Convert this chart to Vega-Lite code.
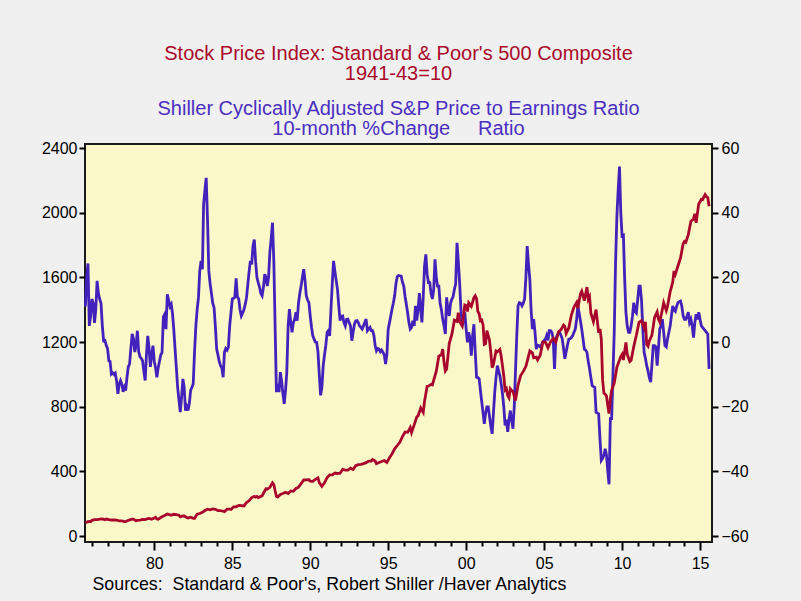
{
"$schema": "https://vega.github.io/schema/vega-lite/v6.json",
"width": 627, "height": 398,
"autosize": {"type": "none"},
"padding": {"left": 85, "top": 144, "right": 89, "bottom": 59},
"background": "#F0F0F0",
"config": {
  "font": "Liberation Sans",
  "view": {"fill": "#FAF8C8", "stroke": "#1a1a1a", "strokeWidth": 2},
  "axis": {"labelFont": "Liberation Sans", "labelFontSize": 16, "labelColor": "#000", "tickColor": "#000", "tickWidth": 2, "domain": false, "grid": false, "labelFlush": false, "labelOverlap": false}
},
"title": {
  "text": ["Stock Price Index: Standard & Poor's 500 Composite", "1941-43=10"],
  "subtitle": ["Shiller Cyclically Adjusted S&P Price to Earnings Ratio", "10-month %Change\u00a0\u00a0\u00a0\u00a0 Ratio"],
  "color": "#AA0A2A", "subtitleColor": "#4A2FC0",
  "fontSize": 20, "subtitleFontSize": 20, "fontWeight": "normal",
  "font": "Liberation Sans", "subtitleFont": "Liberation Sans",
  "lineHeight": 20, "subtitleLineHeight": 20, "subtitlePadding": 15, "offset": 1, "anchor": "middle"
},
"datasets": {
"sp500": [
{"date":"1975-08","value":85.7},{"date":"1975-09","value":84.7},{"date":"1975-10","value":88.6},{"date":"1975-11","value":90.1},{"date":"1975-12","value":88.7},
{"date":"1976-01","value":96.9},{"date":"1976-03","value":101.1},{"date":"1976-05","value":101.2},{"date":"1976-07","value":104.2},{"date":"1976-09","value":105.5},{"date":"1976-11","value":101.2},{"date":"1976-12","value":104.7},
{"date":"1977-02","value":100.9},{"date":"1977-04","value":99.1},{"date":"1977-06","value":99.3},{"date":"1977-08","value":97.7},{"date":"1977-10","value":94.2},{"date":"1977-12","value":93.8},
{"date":"1978-02","value":89.0},{"date":"1978-03","value":88.8},{"date":"1978-05","value":97.2},{"date":"1978-08","value":103.9},{"date":"1978-09","value":103.9},{"date":"1978-11","value":94.7},{"date":"1978-12","value":96.1},
{"date":"1979-02","value":98.2},{"date":"1979-04","value":102.1},{"date":"1979-06","value":101.7},{"date":"1979-08","value":107.4},{"date":"1979-09","value":108.6},{"date":"1979-11","value":103.7},{"date":"1979-12","value":107.8},
{"date":"1980-01","value":110.9},{"date":"1980-02","value":115.3},{"date":"1980-03","value":104.7},{"date":"1980-04","value":103.0},{"date":"1980-06","value":114.2},{"date":"1980-08","value":123.5},{"date":"1980-09","value":126.5},{"date":"1980-11","value":135.7},{"date":"1980-12","value":133.5},
{"date":"1981-02","value":128.4},{"date":"1981-04","value":134.4},{"date":"1981-06","value":132.3},{"date":"1981-08","value":129.1},{"date":"1981-09","value":118.3},{"date":"1981-11","value":123.8},{"date":"1981-12","value":123.8},
{"date":"1982-02","value":114.6},{"date":"1982-03","value":110.8},{"date":"1982-05","value":116.3},{"date":"1982-07","value":109.4},{"date":"1982-08","value":109.7},{"date":"1982-10","value":135.3},{"date":"1982-12","value":139.4},
{"date":"1983-02","value":146.8},{"date":"1983-04","value":157.7},{"date":"1983-06","value":166.4},{"date":"1983-08","value":162.4},{"date":"1983-10","value":167.6},{"date":"1983-12","value":165.0},
{"date":"1984-02","value":157.1},{"date":"1984-04","value":157.4},{"date":"1984-06","value":153.1},{"date":"1984-07","value":151.1},{"date":"1984-09","value":166.1},{"date":"1984-11","value":166.3},{"date":"1984-12","value":164.5},
{"date":"1985-02","value":180.7},{"date":"1985-04","value":180.6},{"date":"1985-06","value":188.9},{"date":"1985-08","value":188.3},{"date":"1985-10","value":186.2},{"date":"1985-12","value":207.3},
{"date":"1986-02","value":219.4},{"date":"1986-04","value":237.7},{"date":"1986-06","value":245.3},{"date":"1986-07","value":240.2},{"date":"1986-08","value":245.0},{"date":"1986-09","value":237.4},{"date":"1986-11","value":245.1},{"date":"1986-12","value":248.6},
{"date":"1987-01","value":264.5},{"date":"1987-03","value":292.5},{"date":"1987-04","value":289.3},{"date":"1987-06","value":301.4},{"date":"1987-08","value":329.4},{"date":"1987-09","value":318.7},{"date":"1987-10","value":280.2},{"date":"1987-11","value":245.0},{"date":"1987-12","value":241.0},
{"date":"1988-02","value":257.1},{"date":"1988-04","value":263.0},{"date":"1988-06","value":270.7},{"date":"1988-08","value":263.0},{"date":"1988-10","value":279.0},{"date":"1988-12","value":276.5},
{"date":"1989-02","value":294.0},{"date":"1989-04","value":302.3},{"date":"1989-06","value":323.7},{"date":"1989-08","value":346.6},{"date":"1989-10","value":347.4},{"date":"1989-12","value":348.6},
{"date":"1990-01","value":340.0},{"date":"1990-03","value":338.5},{"date":"1990-05","value":350.3},{"date":"1990-07","value":360.0},{"date":"1990-08","value":330.8},{"date":"1990-10","value":307.1},{"date":"1990-12","value":328.8},
{"date":"1991-02","value":362.3},{"date":"1991-04","value":378.0},{"date":"1991-06","value":378.3},{"date":"1991-08","value":389.4},{"date":"1991-10","value":386.9},{"date":"1991-12","value":388.5},
{"date":"1992-02","value":412.6},{"date":"1992-04","value":407.4},{"date":"1992-06","value":408.3},{"date":"1992-08","value":419.9},{"date":"1992-10","value":411.7},{"date":"1992-12","value":435.6},
{"date":"1993-02","value":441.7},{"date":"1993-04","value":443.6},{"date":"1993-06","value":448.1},{"date":"1993-08","value":454.1},{"date":"1993-10","value":463.9},{"date":"1993-12","value":463.9},
{"date":"1994-01","value":473.0},{"date":"1994-03","value":463.8},{"date":"1994-04","value":447.2},{"date":"1994-06","value":454.8},{"date":"1994-08","value":461.0},{"date":"1994-10","value":467.0},{"date":"1994-12","value":455.2},
{"date":"1995-02","value":483.8},{"date":"1995-04","value":507.9},{"date":"1995-06","value":539.4},{"date":"1995-08","value":560.0},{"date":"1995-10","value":580.0},{"date":"1995-12","value":614.6},
{"date":"1996-02","value":643.7},{"date":"1996-04","value":641.4},{"date":"1996-06","value":670.6},{"date":"1996-07","value":640.0},{"date":"1996-09","value":687.3},{"date":"1996-11","value":737.0},{"date":"1996-12","value":743.3},
{"date":"1997-02","value":792.2},{"date":"1997-04","value":765.0},{"date":"1997-05","value":833.1},{"date":"1997-07","value":925.3},{"date":"1997-08","value":927.7},{"date":"1997-10","value":938.2},{"date":"1997-11","value":935.0},{"date":"1997-12","value":962.4},
{"date":"1998-02","value":1020.1},{"date":"1998-04","value":1112.0},{"date":"1998-06","value":1120.7},{"date":"1998-07","value":1156.6},{"date":"1998-08","value":1074.6},{"date":"1998-09","value":1020.6},{"date":"1998-10","value":1032.5},{"date":"1998-12","value":1190.1},
{"date":"1999-02","value":1248.8},{"date":"1999-04","value":1335.2},{"date":"1999-06","value":1327.5},{"date":"1999-07","value":1381.0},{"date":"1999-08","value":1327.5},{"date":"1999-10","value":1300.0},{"date":"1999-12","value":1428.7},
{"date":"2000-01","value":1425.6},{"date":"2000-02","value":1388.9},{"date":"2000-03","value":1442.2},{"date":"2000-05","value":1420.6},{"date":"2000-07","value":1474.0},{"date":"2000-08","value":1485.5},{"date":"2000-09","value":1468.1},{"date":"2000-10","value":1390.1},{"date":"2000-11","value":1375.0},{"date":"2000-12","value":1330.9},
{"date":"2001-01","value":1335.6},{"date":"2001-02","value":1305.8},{"date":"2001-03","value":1185.9},{"date":"2001-04","value":1189.8},{"date":"2001-05","value":1270.4},{"date":"2001-07","value":1211.2},{"date":"2001-08","value":1133.6},{"date":"2001-09","value":1040.9},{"date":"2001-10","value":1059.8},{"date":"2001-12","value":1144.9},
{"date":"2002-01","value":1140.2},{"date":"2002-03","value":1153.8},{"date":"2002-04","value":1112.0},{"date":"2002-06","value":989.8},{"date":"2002-07","value":903.6},{"date":"2002-08","value":912.6},{"date":"2002-09","value":867.8},{"date":"2002-10","value":854.6},{"date":"2002-11","value":909.9},{"date":"2002-12","value":899.2},
{"date":"2003-01","value":895.8},{"date":"2003-03","value":837.6},{"date":"2003-05","value":934.0},{"date":"2003-07","value":992.5},{"date":"2003-09","value":1018.2},{"date":"2003-11","value":1049.9},{"date":"2003-12","value":1080.6},
{"date":"2004-02","value":1145.0},{"date":"2004-04","value":1133.1},{"date":"2004-05","value":1102.8},{"date":"2004-07","value":1106.7},{"date":"2004-08","value":1088.9},{"date":"2004-10","value":1118.1},{"date":"2004-12","value":1199.2},
{"date":"2005-02","value":1199.6},{"date":"2005-04","value":1164.4},{"date":"2005-06","value":1202.3},{"date":"2005-08","value":1222.2},{"date":"2005-10","value":1199.4},{"date":"2005-12","value":1262.1},
{"date":"2006-02","value":1277.5},{"date":"2006-04","value":1305.0},{"date":"2006-05","value":1297.0},{"date":"2006-06","value":1253.1},{"date":"2006-08","value":1287.2},{"date":"2006-10","value":1367.0},{"date":"2006-12","value":1416.4},
{"date":"2007-02","value":1445.0},{"date":"2007-03","value":1406.9},{"date":"2007-05","value":1497.5},{"date":"2007-06","value":1514.5},{"date":"2007-08","value":1456.0},{"date":"2007-10","value":1540.0},{"date":"2007-11","value":1463.4},{"date":"2007-12","value":1479.2},
{"date":"2008-01","value":1378.8},{"date":"2008-03","value":1326.4},{"date":"2008-05","value":1400.4},{"date":"2008-07","value":1257.3},{"date":"2008-08","value":1281.5},{"date":"2008-09","value":1217.0},{"date":"2008-10","value":968.8},{"date":"2008-11","value":883.0},{"date":"2008-12","value":877.6},
{"date":"2009-01","value":865.6},{"date":"2009-02","value":805.2},{"date":"2009-03","value":757.1},{"date":"2009-04","value":848.2},{"date":"2009-05","value":902.4},{"date":"2009-07","value":946.2},{"date":"2009-09","value":1044.6},{"date":"2009-11","value":1088.1},{"date":"2009-12","value":1110.4},
{"date":"2010-01","value":1123.6},{"date":"2010-02","value":1089.2},{"date":"2010-04","value":1197.3},{"date":"2010-05","value":1125.1},{"date":"2010-07","value":1079.8},{"date":"2010-08","value":1087.3},{"date":"2010-10","value":1171.6},{"date":"2010-12","value":1241.5},
{"date":"2011-02","value":1321.1},{"date":"2011-04","value":1331.5},{"date":"2011-06","value":1287.3},{"date":"2011-07","value":1325.2},{"date":"2011-08","value":1185.3},{"date":"2011-09","value":1173.9},{"date":"2011-10","value":1207.2},{"date":"2011-12","value":1243.3},
{"date":"2012-02","value":1352.5},{"date":"2012-04","value":1386.4},{"date":"2012-05","value":1341.3},{"date":"2012-06","value":1323.5},{"date":"2012-08","value":1401.4},{"date":"2012-09","value":1443.4},{"date":"2012-11","value":1394.5},{"date":"2012-12","value":1422.3},
{"date":"2013-02","value":1512.3},{"date":"2013-04","value":1570.7},{"date":"2013-05","value":1639.8},{"date":"2013-06","value":1618.8},{"date":"2013-08","value":1670.1},{"date":"2013-10","value":1720.0},{"date":"2013-12","value":1807.8},
{"date":"2014-01","value":1822.4},{"date":"2014-02","value":1817.0},{"date":"2014-04","value":1864.3},{"date":"2014-06","value":1947.1},{"date":"2014-08","value":1961.5},{"date":"2014-09","value":1993.2},{"date":"2014-10","value":1937.3},{"date":"2014-12","value":2054.3},
{"date":"2015-02","value":2082.2},{"date":"2015-03","value":2080.6},{"date":"2015-05","value":2111.9},{"date":"2015-06","value":2099.3},{"date":"2015-07","value":2094.1},{"date":"2015-08","value":2039.9}
],
"cape": [
{"date":"1975-08","value":11},{"date":"1975-09","value":20},{"date":"1975-10","value":24.3},{"date":"1975-11","value":5},{"date":"1975-12","value":8},
{"date":"1976-01","value":13.3},{"date":"1976-02","value":12},{"date":"1976-03","value":5.9},{"date":"1976-04","value":10},{"date":"1976-05","value":18.9},{"date":"1976-06","value":15},{"date":"1976-07","value":13.3},{"date":"1976-08","value":12},{"date":"1976-09","value":5},{"date":"1976-10","value":0.4},{"date":"1976-11","value":0.5},{"date":"1976-12","value":-1},
{"date":"1977-01","value":-2},{"date":"1977-02","value":-5.8},{"date":"1977-03","value":-6},{"date":"1977-04","value":-9.9},{"date":"1977-05","value":-9.5},{"date":"1977-06","value":-10},{"date":"1977-07","value":-9.6},{"date":"1977-08","value":-12},{"date":"1977-09","value":-16},{"date":"1977-10","value":-13},{"date":"1977-11","value":-11.9},{"date":"1977-12","value":-13},
{"date":"1978-01","value":-15.4},{"date":"1978-02","value":-14},{"date":"1978-03","value":-15},{"date":"1978-04","value":-11},{"date":"1978-05","value":-7.7},{"date":"1978-06","value":-6.8},{"date":"1978-07","value":-2},{"date":"1978-08","value":2.5},{"date":"1978-09","value":1},{"date":"1978-10","value":-3.1},{"date":"1978-11","value":-1},{"date":"1978-12","value":3.5},
{"date":"1979-01","value":-3},{"date":"1979-02","value":-4.6},{"date":"1979-03","value":-5},{"date":"1979-04","value":-5.8},{"date":"1979-05","value":-9},{"date":"1979-06","value":-11.9},{"date":"1979-07","value":-4},{"date":"1979-08","value":1.9},{"date":"1979-09","value":-2},{"date":"1979-10","value":-7.7},{"date":"1979-11","value":-4},{"date":"1979-12","value":-1.1},
{"date":"1980-01","value":-6},{"date":"1980-02","value":-8},{"date":"1980-03","value":-10.9},{"date":"1980-04","value":-8},{"date":"1980-05","value":-6},{"date":"1980-06","value":-4},{"date":"1980-07","value":-3.2},{"date":"1980-08","value":7.8},{"date":"1980-09","value":8.6},{"date":"1980-10","value":4.0},{"date":"1980-11","value":14.8},{"date":"1980-12","value":13},
{"date":"1981-01","value":11},{"date":"1981-02","value":11.7},{"date":"1981-03","value":9},{"date":"1981-04","value":4},{"date":"1981-05","value":-2},{"date":"1981-06","value":-8},{"date":"1981-07","value":-14},{"date":"1981-08","value":-18},{"date":"1981-09","value":-21.7},{"date":"1981-10","value":-17},{"date":"1981-11","value":-11.4},{"date":"1981-12","value":-14},
{"date":"1982-01","value":-21.2},{"date":"1982-02","value":-20},{"date":"1982-03","value":-21.2},{"date":"1982-04","value":-19},{"date":"1982-05","value":-15},{"date":"1982-06","value":-14},{"date":"1982-07","value":-12.9},{"date":"1982-08","value":-3},{"date":"1982-09","value":5},{"date":"1982-10","value":10},{"date":"1982-11","value":13.8},{"date":"1982-12","value":22},
{"date":"1983-01","value":25.1},{"date":"1983-02","value":22.5},{"date":"1983-03","value":42.5},{"date":"1983-04","value":47},{"date":"1983-05","value":50.8},{"date":"1983-06","value":38},{"date":"1983-07","value":22},{"date":"1983-08","value":18},{"date":"1983-09","value":15},{"date":"1983-10","value":12},{"date":"1983-11","value":10.7},{"date":"1983-12","value":5},
{"date":"1984-01","value":-2.2},{"date":"1984-02","value":-4},{"date":"1984-03","value":-6},{"date":"1984-04","value":-7.3},{"date":"1984-05","value":-8},{"date":"1984-06","value":-10.9},{"date":"1984-07","value":-3.2},{"date":"1984-08","value":-2},{"date":"1984-09","value":-2.5},{"date":"1984-10","value":-1.6},{"date":"1984-11","value":5},{"date":"1984-12","value":9},
{"date":"1985-01","value":13.3},{"date":"1985-02","value":13.5},{"date":"1985-03","value":13.8},{"date":"1985-04","value":19.7},{"date":"1985-05","value":14},{"date":"1985-06","value":13.3},{"date":"1985-07","value":10},{"date":"1985-08","value":8.1},{"date":"1985-09","value":9},{"date":"1985-10","value":10},{"date":"1985-11","value":11.7},{"date":"1985-12","value":13.8},
{"date":"1986-01","value":18},{"date":"1986-02","value":22},{"date":"1986-03","value":25.1},{"date":"1986-04","value":24},{"date":"1986-05","value":29.7},{"date":"1986-06","value":31.7},{"date":"1986-07","value":25},{"date":"1986-08","value":20},{"date":"1986-09","value":18.4},{"date":"1986-10","value":17},{"date":"1986-11","value":15},{"date":"1986-12","value":14.3},
{"date":"1987-01","value":17},{"date":"1987-02","value":21},{"date":"1987-03","value":20},{"date":"1987-04","value":17.3},{"date":"1987-05","value":20},{"date":"1987-06","value":28},{"date":"1987-07","value":32},{"date":"1987-08","value":36.9},{"date":"1987-09","value":25},{"date":"1987-10","value":5},{"date":"1987-11","value":-15.5},{"date":"1987-12","value":-13},
{"date":"1988-01","value":-15.5},{"date":"1988-02","value":-9.3},{"date":"1988-03","value":-12},{"date":"1988-04","value":-16},{"date":"1988-05","value":-19.1},{"date":"1988-06","value":-15},{"date":"1988-07","value":-9.3},{"date":"1988-08","value":5},{"date":"1988-09","value":10.2},{"date":"1988-10","value":6},{"date":"1988-11","value":3.0},{"date":"1988-12","value":6},
{"date":"1989-01","value":7},{"date":"1989-02","value":9.2},{"date":"1989-03","value":6.6},{"date":"1989-04","value":12},{"date":"1989-05","value":15},{"date":"1989-06","value":17.3},{"date":"1989-07","value":20},{"date":"1989-08","value":22.5},{"date":"1989-09","value":19},{"date":"1989-10","value":14.3},{"date":"1989-11","value":13},{"date":"1989-12","value":12.2},
{"date":"1990-01","value":8},{"date":"1990-02","value":4.5},{"date":"1990-03","value":2},{"date":"1990-04","value":0.9},{"date":"1990-05","value":0},{"date":"1990-06","value":-0.1},{"date":"1990-07","value":-3},{"date":"1990-08","value":-10},{"date":"1990-09","value":-16.5},{"date":"1990-10","value":-14},{"date":"1990-11","value":-7.3},{"date":"1990-12","value":-4},
{"date":"1991-01","value":-1},{"date":"1991-02","value":3.0},{"date":"1991-03","value":3.5},{"date":"1991-04","value":1.9},{"date":"1991-05","value":10},{"date":"1991-06","value":18},{"date":"1991-07","value":25.1},{"date":"1991-08","value":22},{"date":"1991-09","value":19},{"date":"1991-10","value":16.3},{"date":"1991-11","value":11},{"date":"1991-12","value":6.6},
{"date":"1992-01","value":8},{"date":"1992-02","value":8.1},{"date":"1992-03","value":6},{"date":"1992-04","value":5.0},{"date":"1992-05","value":7},{"date":"1992-06","value":7.1},{"date":"1992-07","value":6},{"date":"1992-08","value":5},{"date":"1992-09","value":0.4},{"date":"1992-10","value":3},{"date":"1992-11","value":5.5},{"date":"1992-12","value":6.5},
{"date":"1993-01","value":6.6},{"date":"1993-02","value":6},{"date":"1993-03","value":5},{"date":"1993-04","value":4.5},{"date":"1993-05","value":4.0},{"date":"1993-06","value":5},{"date":"1993-07","value":6},{"date":"1993-08","value":7.1},{"date":"1993-09","value":3.5},{"date":"1993-10","value":4},{"date":"1993-11","value":4.5},{"date":"1993-12","value":3.5},
{"date":"1994-01","value":3.5},{"date":"1994-02","value":2},{"date":"1994-03","value":-1},{"date":"1994-04","value":-2.7},{"date":"1994-05","value":-2},{"date":"1994-06","value":-2.2},{"date":"1994-07","value":-3},{"date":"1994-08","value":-2.5},{"date":"1994-09","value":-3.2},{"date":"1994-10","value":-4},{"date":"1994-11","value":-6.8},{"date":"1994-12","value":-4},
{"date":"1995-01","value":4.0},{"date":"1995-02","value":6},{"date":"1995-03","value":8},{"date":"1995-04","value":10.2},{"date":"1995-05","value":12},{"date":"1995-06","value":14.3},{"date":"1995-07","value":18},{"date":"1995-08","value":20.2},{"date":"1995-09","value":20.6},{"date":"1995-10","value":20.5},{"date":"1995-11","value":20.4},{"date":"1995-12","value":18.5},
{"date":"1996-01","value":17.3},{"date":"1996-02","value":14},{"date":"1996-03","value":11.7},{"date":"1996-04","value":9},{"date":"1996-05","value":6},{"date":"1996-06","value":4.0},{"date":"1996-07","value":4.5},{"date":"1996-08","value":6.6},{"date":"1996-09","value":5},{"date":"1996-10","value":11.2},{"date":"1996-11","value":6.6},{"date":"1996-12","value":10},
{"date":"1997-01","value":15.1},{"date":"1997-02","value":10},{"date":"1997-03","value":6.1},{"date":"1997-04","value":14},{"date":"1997-05","value":23.5},{"date":"1997-06","value":27.1},{"date":"1997-07","value":21},{"date":"1997-08","value":18.4},{"date":"1997-09","value":18.4},{"date":"1997-10","value":15},{"date":"1997-11","value":13.3},{"date":"1997-12","value":16},
{"date":"1998-01","value":25.6},{"date":"1998-02","value":20},{"date":"1998-03","value":17.3},{"date":"1998-04","value":17.3},{"date":"1998-05","value":12},{"date":"1998-06","value":10},{"date":"1998-07","value":7.1},{"date":"1998-08","value":5},{"date":"1998-09","value":2.5},{"date":"1998-10","value":13.8},{"date":"1998-11","value":10},{"date":"1998-12","value":8.1},
{"date":"1999-01","value":12},{"date":"1999-02","value":13.3},{"date":"1999-03","value":14},{"date":"1999-04","value":16.3},{"date":"1999-05","value":18},{"date":"1999-06","value":30.7},{"date":"1999-07","value":25},{"date":"1999-08","value":18.4},{"date":"1999-09","value":10},{"date":"1999-10","value":5.0},{"date":"1999-11","value":7},{"date":"1999-12","value":9.2},
{"date":"2000-01","value":4},{"date":"2000-02","value":-0.1},{"date":"2000-03","value":3.0},{"date":"2000-04","value":1},{"date":"2000-05","value":-4.2},{"date":"2000-06","value":2},{"date":"2000-07","value":5.5},{"date":"2000-08","value":-3},{"date":"2000-09","value":-10.9},{"date":"2000-10","value":-11},{"date":"2000-11","value":-11.4},{"date":"2000-12","value":-15},
{"date":"2001-01","value":-18.6},{"date":"2001-02","value":-22},{"date":"2001-03","value":-25.3},{"date":"2001-04","value":-22},{"date":"2001-05","value":-20.1},{"date":"2001-06","value":-20.1},{"date":"2001-07","value":-23},{"date":"2001-08","value":-26},{"date":"2001-09","value":-28.4},{"date":"2001-10","value":-22},{"date":"2001-11","value":-15.5},{"date":"2001-12","value":-11},
{"date":"2002-01","value":-7.3},{"date":"2002-02","value":-9},{"date":"2002-03","value":-10.4},{"date":"2002-04","value":-13},{"date":"2002-05","value":-16},{"date":"2002-06","value":-20},{"date":"2002-07","value":-25.8},{"date":"2002-08","value":-24},{"date":"2002-09","value":-27.8},{"date":"2002-10","value":-24},{"date":"2002-11","value":-21.2},{"date":"2002-12","value":-24},
{"date":"2003-01","value":-26.8},{"date":"2003-02","value":-20},{"date":"2003-03","value":-9.3},{"date":"2003-04","value":2},{"date":"2003-05","value":11.2},{"date":"2003-06","value":12.2},{"date":"2003-07","value":12},{"date":"2003-08","value":11.2},{"date":"2003-09","value":12},{"date":"2003-10","value":13.3},{"date":"2003-11","value":20},{"date":"2003-12","value":29.7},
{"date":"2004-01","value":24},{"date":"2004-02","value":19.4},{"date":"2004-03","value":10},{"date":"2004-04","value":4.0},{"date":"2004-05","value":7.1},{"date":"2004-06","value":3},{"date":"2004-07","value":-2.2},{"date":"2004-08","value":-1},{"date":"2004-09","value":-1.1},{"date":"2004-10","value":-1.5},{"date":"2004-11","value":-1},{"date":"2004-12","value":0},
{"date":"2005-01","value":0.5},{"date":"2005-02","value":0.9},{"date":"2005-03","value":2},{"date":"2005-04","value":0.5},{"date":"2005-05","value":3.5},{"date":"2005-06","value":3.5},{"date":"2005-07","value":3.0},{"date":"2005-08","value":1},{"date":"2005-09","value":-8.3},{"date":"2005-10","value":0.9},{"date":"2005-11","value":2},{"date":"2005-12","value":2.5},
{"date":"2006-01","value":3.0},{"date":"2006-02","value":2},{"date":"2006-03","value":1},{"date":"2006-04","value":-2},{"date":"2006-05","value":-5.2},{"date":"2006-06","value":-3},{"date":"2006-07","value":-1},{"date":"2006-08","value":0.9},{"date":"2006-09","value":1},{"date":"2006-10","value":1.4},{"date":"2006-11","value":2},{"date":"2006-12","value":3},
{"date":"2007-01","value":4.0},{"date":"2007-02","value":7},{"date":"2007-03","value":11.2},{"date":"2007-04","value":9},{"date":"2007-05","value":6.6},{"date":"2007-06","value":4},{"date":"2007-07","value":1},{"date":"2007-08","value":-2.2},{"date":"2007-09","value":-2.5},{"date":"2007-10","value":-3.2},{"date":"2007-11","value":-6},{"date":"2007-12","value":-8.3},
{"date":"2008-01","value":-11},{"date":"2008-02","value":-13.5},{"date":"2008-03","value":-13.8},{"date":"2008-04","value":-14},{"date":"2008-05","value":-21.7},{"date":"2008-06","value":-22},{"date":"2008-07","value":-22.2},{"date":"2008-08","value":-30},{"date":"2008-09","value":-36.6},{"date":"2008-10","value":-36},{"date":"2008-11","value":-35},{"date":"2008-12","value":-33},
{"date":"2009-01","value":-35},{"date":"2009-02","value":-40},{"date":"2009-03","value":-44},{"date":"2009-04","value":-23.7},{"date":"2009-05","value":-23.7},{"date":"2009-06","value":-10},{"date":"2009-07","value":3.0},{"date":"2009-08","value":24.6},{"date":"2009-09","value":38.9},{"date":"2009-10","value":47},{"date":"2009-11","value":54.3},{"date":"2009-12","value":40},
{"date":"2010-01","value":32.8},{"date":"2010-02","value":33},{"date":"2010-03","value":20},{"date":"2010-04","value":9.2},{"date":"2010-05","value":5},{"date":"2010-06","value":3.0},{"date":"2010-07","value":3.0},{"date":"2010-08","value":5},{"date":"2010-09","value":8},{"date":"2010-10","value":12.2},{"date":"2010-11","value":9.5},{"date":"2010-12","value":9},
{"date":"2011-01","value":13},{"date":"2011-02","value":17.3},{"date":"2011-03","value":17.3},{"date":"2011-04","value":13},{"date":"2011-05","value":4.0},{"date":"2011-06","value":-3.2},{"date":"2011-07","value":-5},{"date":"2011-08","value":-7.3},{"date":"2011-09","value":-9},{"date":"2011-10","value":-11},{"date":"2011-11","value":-12.4},{"date":"2011-12","value":-7},
{"date":"2012-01","value":-1.1},{"date":"2012-02","value":-1.1},{"date":"2012-03","value":-1.5},{"date":"2012-04","value":-7.3},{"date":"2012-05","value":-2},{"date":"2012-06","value":4.0},{"date":"2012-07","value":5},{"date":"2012-08","value":7.1},{"date":"2012-09","value":3},{"date":"2012-10","value":-1.1},{"date":"2012-11","value":-1.5},{"date":"2012-12","value":1},
{"date":"2013-01","value":3},{"date":"2013-02","value":5.0},{"date":"2013-03","value":8},{"date":"2013-04","value":11.2},{"date":"2013-05","value":10},{"date":"2013-06","value":9.5},{"date":"2013-07","value":11},{"date":"2013-08","value":12.2},{"date":"2013-09","value":12.5},{"date":"2013-10","value":12.7},{"date":"2013-11","value":11},{"date":"2013-12","value":8.1},
{"date":"2014-01","value":7},{"date":"2014-02","value":7.0},{"date":"2014-03","value":8},{"date":"2014-04","value":9.2},{"date":"2014-05","value":6},{"date":"2014-06","value":7},{"date":"2014-07","value":5},{"date":"2014-08","value":1.4},{"date":"2014-09","value":6},{"date":"2014-10","value":8.6},{"date":"2014-11","value":7},{"date":"2014-12","value":9.2},
{"date":"2015-01","value":7},{"date":"2015-02","value":5.0},{"date":"2015-03","value":4.5},{"date":"2015-04","value":4},{"date":"2015-05","value":3.5},{"date":"2015-06","value":3},{"date":"2015-07","value":2.5},{"date":"2015-08","value":-8.3}
]
},
"encoding": {
  "x": {
    "field": "date", "type": "temporal",
    "scale": {"type": "utc", "domain": [{"year": 1975, "month": 7, "date": 23, "utc": true}, {"year": 2015, "month": 10, "date": 8, "utc": true}]},
    "axis": {
      "values": [
        {"year":1976,"utc":true},{"year":1977,"utc":true},{"year":1978,"utc":true},{"year":1979,"utc":true},{"year":1980,"utc":true},
        {"year":1981,"utc":true},{"year":1982,"utc":true},{"year":1983,"utc":true},{"year":1984,"utc":true},{"year":1985,"utc":true},
        {"year":1986,"utc":true},{"year":1987,"utc":true},{"year":1988,"utc":true},{"year":1989,"utc":true},{"year":1990,"utc":true},
        {"year":1991,"utc":true},{"year":1992,"utc":true},{"year":1993,"utc":true},{"year":1994,"utc":true},{"year":1995,"utc":true},
        {"year":1996,"utc":true},{"year":1997,"utc":true},{"year":1998,"utc":true},{"year":1999,"utc":true},{"year":2000,"utc":true},
        {"year":2001,"utc":true},{"year":2002,"utc":true},{"year":2003,"utc":true},{"year":2004,"utc":true},{"year":2005,"utc":true},
        {"year":2006,"utc":true},{"year":2007,"utc":true},{"year":2008,"utc":true},{"year":2009,"utc":true},{"year":2010,"utc":true},
        {"year":2011,"utc":true},{"year":2012,"utc":true},{"year":2013,"utc":true},{"year":2014,"utc":true},{"year":2015,"utc":true}
      ],
      "labelExpr": "utcyear(datum.value) % 5 == 0 ? utcFormat(datum.value, '%y') : ''",
      "tickSize": {"condition": {"test": "utcyear(datum.value) % 5 == 0", "value": 8}, "value": 4},
      "labelPadding": 5,
      "title": "Sources:\u00a0\u00a0Standard & Poor's, Robert Shiller /Haver Analytics",
      "titleFont": "Liberation Sans", "titleFontSize": 17.8, "titleFontWeight": "normal", "titleColor": "#000",
      "titleAlign": "left", "titleAnchor": "start", "titleX": 7, "titleY": 47, "titleBaseline": "alphabetic"
    }
  }
},
"layer": [
  {
    "data": {"name": "cape"},
    "mark": {"type": "line", "color": "#4222BC", "strokeWidth": 2.8},
    "encoding": {
      "y": {"field": "value", "type": "quantitative",
        "scale": {"domain": [-61.85, 61.25], "nice": false, "zero": false},
        "axis": {"orient": "right", "values": [-60, -40, -20, 0, 20, 40, 60], "format": "d", "tickSize": 6, "labelPadding": 3, "title": null}}
    }
  },
  {
    "data": {"name": "sp500"},
    "mark": {"type": "line", "color": "#A8062C", "strokeWidth": 2.8},
    "encoding": {
      "y": {"field": "value", "type": "quantitative",
        "scale": {"domain": [-37, 2425], "nice": false, "zero": false},
        "axis": {"orient": "left", "values": [0, 400, 800, 1200, 1600, 2000, 2400], "format": "d", "tickSize": 6, "labelPadding": 2, "title": null}}
    }
  }
],
"resolve": {"scale": {"y": "independent"}, "axis": {"y": "independent"}}
}
